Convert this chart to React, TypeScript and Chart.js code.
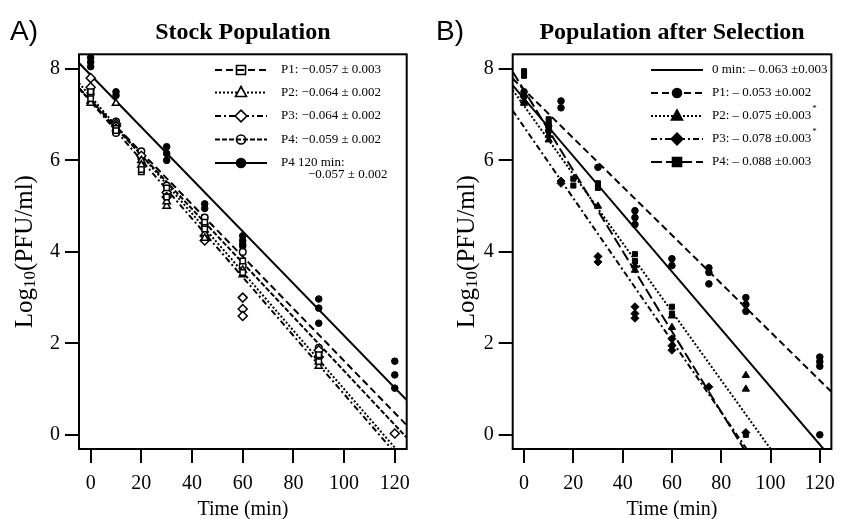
import React, { useEffect, useRef } from "react";
import { Chart, registerables } from "chart.js";
Chart.register(...registerables);

const SERIF = '"Liberation Serif", "Times New Roman", serif';
const SANS = '"Liberation Sans", Arial, sans-serif';

// ---- axes ----
const xTicks = [0, 20, 40, 60, 80, 100, 120];
const yTicks = [0, 2, 4, 6, 8];
const X_MIN = -4.6;
const X_MAX = 124.7;
const Y_MIN = -0.31;
const Y_MAX = 8.32;
const fitX = [-4.6, 124.7];

// ---- Panel A: Stock Population ----
const aP1Time = [0, 0, 10, 10, 20, 20, 30, 30, 45, 45, 60, 60, 60, 90, 90];
const aP1Log = [7.5, 7.35, 6.7, 6.65, 5.75, 5.8, 5.4, 5.2, 4.65, 4.5, 3.8, 3.55, 4.15, 1.75, 1.6];
const aP2Time = [0, 0, 10, 10, 20, 20, 30, 30, 45, 45, 60, 60, 90, 90];
const aP2Log = [7.3, 7.25, 7.25, 6.7, 6.0, 5.9, 5.0, 5.1, 4.4, 4.3, 3.5, 3.6, 1.5, 1.6];
const aP3Time = [0, 0, 10, 10, 20, 30, 30, 45, 45, 60, 60, 60, 90, 90, 120];
const aP3Log = [7.8, 7.6, 6.8, 6.75, 6.1, 5.3, 5.2, 4.35, 4.25, 3.0, 2.75, 2.6, 1.85, 1.7, 0.03];
const aP4Time = [0, 0, 10, 10, 20, 20, 30, 30, 45, 45, 60, 60, 90, 90];
const aP4Log = [7.55, 7.45, 6.85, 6.6, 6.2, 6.05, 5.45, 5.3, 4.6, 4.75, 4.0, 3.7, 1.9, 1.8];
const aP4120Time = [0, 0, 0, 10, 10, 30, 30, 30, 45, 45, 60, 60, 60, 90, 90, 90, 120, 120, 120];
const aP4120Log = [8.25, 8.15, 8.05, 7.5, 7.42, 6.3, 6.15, 6.0, 5.05, 4.95, 4.35, 4.25, 4.15, 2.97, 2.77, 2.44, 1.61, 1.31, 1.02];
// fitted lines: log value at fitX ends
const aFitP4120 = [8.13, 0.76];
const aFitP1 = [7.58, 0.21];
const aFitP2 = [7.69, -0.58];
const aFitP3 = [7.58, -0.69];
const aFitP4 = [7.57, -0.06];

// ---- Panel B: Population after Selection ----
const bP1Time = [0, 0, 10, 10, 15, 15, 30, 45, 45, 45, 60, 60, 75, 75, 75, 90, 90, 90, 120, 120, 120, 120];
const bP1Log = [7.5, 7.4, 6.75, 6.65, 7.3, 7.15, 5.85, 4.9, 4.75, 4.6, 3.85, 3.7, 3.65, 3.55, 3.3, 3.0, 2.85, 2.7, 1.7, 1.6, 1.5, 0.0];
const bP2Time = [0, 0, 10, 10, 30, 45, 45, 60, 60, 90, 90];
const bP2Log = [7.3, 7.25, 6.55, 6.45, 5.0, 3.7, 3.6, 2.6, 2.35, 1.3, 1.0];
const bP3Time = [0, 15, 15, 30, 30, 45, 45, 45, 60, 60, 60, 75, 90];
const bP3Log = [7.4, 5.55, 5.5, 3.9, 3.78, 2.8, 2.65, 2.55, 2.1, 1.95, 1.85, 1.05, 0.05];
const bP4Time = [0, 0, 10, 10, 20, 20, 30, 30, 45, 45, 60, 60, 90];
const bP4Log = [7.95, 7.85, 6.9, 6.8, 5.6, 5.45, 5.5, 5.4, 3.95, 3.8, 2.8, 2.65, 0.0];
const bFit0 = [7.64, -0.51];
const bFitP1 = [7.79, 0.94];
const bFitP2 = [7.54, -2.16];
const bFitP3 = [7.09, -2.99];
const bFitP4 = [7.94, -3.43];

// ---- legend texts ----
const aLegendText = ["P1: \u22120.057 \u00b1 0.003", "P2: \u22120.064 \u00b1 0.002", "P3: \u22120.064 \u00b1 0.002", "P4: \u22120.059 \u00b1 0.002", "P4 120 min:"];
const aLegendText2 = "\u22120.057 \u00b1 0.002";
const bLegendText = ["0 min: \u2013 0.063 \u00b10.003", "P1: \u2013 0.053 \u00b10.002", "P2: \u2013 0.075 \u00b10.003", "P3: \u2013 0.078 \u00b10.003", "P4: \u2013 0.088 \u00b10.003"];
const bLegendSup = ["", "", "*", "*", ""];

type Marker = "rect" | "triangle" | "rectRot" | "circle" | null;
interface SeriesDef { times: number[]; values: number[]; style: Marker; filled: boolean; radius: number; }
interface FitDef { ends: number[]; dash: number[]; }
interface LegendDef { dash: number[]; marker: Marker; filled: boolean; text: string; sup?: string; text2?: string; }
interface PanelDef {
  letter: string; title: string; series: SeriesDef[]; fits: FitDef[]; legend: LegendDef[];
  yAxisWidth: number; padRight: number; yTitleX: number; letterX: number;
  legendLineX: [number, number]; legendTextX: number; legendRowY: number[];
}

const DASH = { dashed: [7, 4], dotted: [2, 2], dashDot: [6, 3, 2, 3], closeDash: [5, 2], longDash: [11, 4], solid: [] as number[] };

const panelA: PanelDef = {
  letter: "A)", title: "Stock Population",
  series: [
    { times: aP4120Time, values: aP4120Log, style: "circle", filled: true, radius: 3.3 },
    { times: aP1Time, values: aP1Log, style: "rect", filled: false, radius: 3.8 },
    { times: aP2Time, values: aP2Log, style: "triangle", filled: false, radius: 4.2 },
    { times: aP3Time, values: aP3Log, style: "rectRot", filled: false, radius: 4.5 },
    { times: aP4Time, values: aP4Log, style: "circle", filled: false, radius: 3.3 },
  ],
  fits: [
    { ends: aFitP4120, dash: DASH.solid },
    { ends: aFitP1, dash: DASH.dashed },
    { ends: aFitP2, dash: DASH.dotted },
    { ends: aFitP3, dash: DASH.dashDot },
    { ends: aFitP4, dash: DASH.closeDash },
  ],
  legend: [
    { dash: DASH.dashed, marker: "rect", filled: false, text: aLegendText[0] },
    { dash: DASH.dotted, marker: "triangle", filled: false, text: aLegendText[1] },
    { dash: DASH.dashDot, marker: "rectRot", filled: false, text: aLegendText[2] },
    { dash: DASH.closeDash, marker: "circle", filled: false, text: aLegendText[3] },
    { dash: DASH.solid, marker: "circle", filled: true, text: aLegendText[4], text2: aLegendText2 },
  ],
  yAxisWidth: 79, padRight: 15.3, yTitleX: 25, letterX: 10,
  legendLineX: [215, 267], legendTextX: 281, legendRowY: [70, 92.5, 116, 139.5, 163],
};

const panelB: PanelDef = {
  letter: "B)", title: "Population after Selection",
  series: [
    { times: bP1Time, values: bP1Log, style: "circle", filled: true, radius: 3.3 },
    { times: bP2Time, values: bP2Log, style: "triangle", filled: true, radius: 4.2 },
    { times: bP3Time, values: bP3Log, style: "rectRot", filled: true, radius: 4 },
    { times: bP4Time, values: bP4Log, style: "rect", filled: true, radius: 3.6 },
  ],
  fits: [
    { ends: bFit0, dash: DASH.solid },
    { ends: bFitP1, dash: DASH.dashed },
    { ends: bFitP2, dash: DASH.dotted },
    { ends: bFitP3, dash: DASH.dashDot },
    { ends: bFitP4, dash: DASH.longDash },
  ],
  legend: [
    { dash: DASH.solid, marker: null, filled: true, text: bLegendText[0], sup: bLegendSup[0] },
    { dash: DASH.dashed, marker: "circle", filled: true, text: bLegendText[1], sup: bLegendSup[1] },
    { dash: DASH.dotted, marker: "triangle", filled: true, text: bLegendText[2], sup: bLegendSup[2] },
    { dash: DASH.dashDot, marker: "rectRot", filled: true, text: bLegendText[3], sup: bLegendSup[3] },
    { dash: DASH.longDash, marker: "rect", filled: true, text: bLegendText[4], sup: bLegendSup[4] },
  ],
  yAxisWidth: 90.7, padRight: 4, yTitleX: 45, letterX: 14,
  legendLineX: [229, 281], legendTextX: 290, legendRowY: [70, 93, 116, 139, 162],
};

function drawMarker(ctx: CanvasRenderingContext2D, style: Marker, x: number, y: number, r: number, filled: boolean) {
  if (!style) return;
  ctx.save();
  ctx.setLineDash([]);
  ctx.beginPath();
  if (style === "circle") ctx.arc(x, y, r, 0, Math.PI * 2);
  else if (style === "rect") ctx.rect(x - r, y - r, 2 * r, 2 * r);
  else if (style === "rectRot") { ctx.moveTo(x, y - r * 1.3); ctx.lineTo(x + r * 1.3, y); ctx.lineTo(x, y + r * 1.3); ctx.lineTo(x - r * 1.3, y); ctx.closePath(); }
  else if (style === "triangle") { ctx.moveTo(x, y - r * 1.2); ctx.lineTo(x + r * 1.1, y + r * 0.8); ctx.lineTo(x - r * 1.1, y + r * 0.8); ctx.closePath(); }
  ctx.lineWidth = 1.6;
  ctx.strokeStyle = "#000";
  if (filled) { ctx.fillStyle = "#000"; ctx.fill(); }
  else if (style === "triangle" || style === "rectRot") { ctx.fillStyle = "#fff"; ctx.fill(); }
  ctx.stroke();
  ctx.restore();
}

function makeDecor(p: PanelDef) {
  return {
    id: "decor",
    afterDraw(chart: any) {
      const ctx: CanvasRenderingContext2D = chart.ctx;
      const a = chart.chartArea;
      const cx = (a.left + a.right) / 2;
      const cy = (a.top + a.bottom) / 2;
      ctx.save();
      ctx.fillStyle = "#000";
      ctx.strokeStyle = "#000";
      // frame
      ctx.setLineDash([]);
      ctx.lineWidth = 2;
      ctx.strokeRect(a.left, a.top, a.right - a.left, a.bottom - a.top);
      // panel letter
      ctx.font = `28px ${SANS}`;
      ctx.textAlign = "left";
      ctx.textBaseline = "alphabetic";
      ctx.fillText(p.letter, p.letterX, 40);
      // title
      ctx.font = `bold 24px ${SERIF}`;
      ctx.textAlign = "center";
      ctx.fillText(p.title, cx, 39);
      // x title
      ctx.font = `20px ${SERIF}`;
      ctx.fillText("Time (min)", cx, 515);
      // y title with subscript
      ctx.save();
      ctx.translate(p.yTitleX, cy);
      ctx.rotate(-Math.PI / 2);
      ctx.textBaseline = "middle";
      ctx.textAlign = "left";
      const big = `25px ${SERIF}`;
      const small = `17px ${SERIF}`;
      ctx.font = big; const w1 = ctx.measureText("Log").width; const w3 = ctx.measureText("(PFU/ml)").width;
      ctx.font = small; const w2 = ctx.measureText("10").width;
      let x0 = -(w1 + w2 + w3) / 2;
      ctx.font = big; ctx.fillText("Log", x0, 0); x0 += w1;
      ctx.font = small; ctx.fillText("10", x0, 6); x0 += w2;
      ctx.font = big; ctx.fillText("(PFU/ml)", x0, 0);
      ctx.restore();
      // legend
      const [lx1, lx2] = p.legendLineX;
      const mx = (lx1 + lx2) / 2;
      ctx.font = `13px ${SERIF}`;
      ctx.textAlign = "left";
      ctx.textBaseline = "middle";
      p.legend.forEach((it, i) => {
        const y = p.legendRowY[i];
        ctx.save();
        ctx.lineWidth = 2;
        ctx.setLineDash(it.dash);
        ctx.beginPath(); ctx.moveTo(lx1, y); ctx.lineTo(lx2, y); ctx.stroke();
        ctx.restore();
        drawMarker(ctx, it.marker, mx, y, it.marker === "triangle" ? 5 : 4.5, it.filled);
        ctx.font = `13px ${SERIF}`;
        ctx.fillText(it.text, p.legendTextX, y);
        if (it.sup) {
          const w = ctx.measureText(it.text).width;
          ctx.font = `9px ${SERIF}`;
          ctx.fillText(it.sup, p.legendTextX + w + 1, y - 7);
          ctx.font = `13px ${SERIF}`;
        }
        if (it.text2) ctx.fillText(it.text2, p.legendTextX + 27, y + 12);
      });
      ctx.restore();
    },
  };
}

function makeChart(canvas: HTMLCanvasElement, p: PanelDef) {
  const datasets: any[] = [];
  p.series.forEach((s) => {
    datasets.push({
      data: s.times.map((t, i) => ({ x: t, y: s.values[i] })),
      showLine: false,
      pointStyle: s.style,
      pointRadius: s.radius,
      pointBackgroundColor: s.filled ? "#000" : "#fff",
      pointBorderColor: "#000",
      pointBorderWidth: s.filled ? 1 : 1.5,
    });
  });
  p.fits.forEach((f) => {
    datasets.push({
      data: fitX.map((x, i) => ({ x, y: f.ends[i] })),
      showLine: true,
      borderColor: "#000",
      borderWidth: 2,
      borderDash: f.dash,
      pointRadius: 0,
      fill: false,
    });
  });
  const tickFont = { family: SERIF, size: 20 };
  const grid = { drawOnChartArea: false, drawTicks: true, tickLength: 14, color: "#000", lineWidth: 2 };
  return new Chart(canvas, {
    type: "scatter",
    data: { datasets },
    options: {
      responsive: false,
      animation: false,
      devicePixelRatio: 1,
      layout: { padding: { left: 0, right: p.padRight, top: 54.3, bottom: 0 } },
      plugins: { legend: { display: false }, tooltip: { enabled: false } },
      scales: {
        x: {
          type: "linear", min: X_MIN, max: X_MAX,
          afterBuildTicks: (sc: any) => { sc.ticks = xTicks.map((v) => ({ value: v })); },
          afterFit: (sc: any) => { sc.height = 70; },
          grid, border: { display: false },
          ticks: { color: "#000", font: tickFont, padding: 9, maxRotation: 0, autoSkip: false },
        },
        y: {
          type: "linear", min: Y_MIN, max: Y_MAX,
          afterBuildTicks: (sc: any) => { sc.ticks = yTicks.map((v) => ({ value: v })); },
          afterFit: (sc: any) => { sc.width = p.yAxisWidth; },
          grid, border: { display: false },
          ticks: { color: "#000", font: tickFont, padding: 5, autoSkip: false },
        },
      },
    } as any,
    plugins: [makeDecor(p)],
  });
}

function Panel({ p, left }: { p: PanelDef; left: number }) {
  const ref = useRef<HTMLCanvasElement>(null);
  useEffect(() => {
    const c = makeChart(ref.current!, p);
    return () => c.destroy();
  }, [p]);
  return <canvas ref={ref} width={422} height={519} style={{ position: "absolute", left, top: 0, width: 422, height: 519 }} />;
}

export default function App() {
  return (
    <div style={{ position: "absolute", left: 0, top: 0, width: 844, height: 519, background: "#fff" }}>
      <Panel p={panelA} left={0} />
      <Panel p={panelB} left={422} />
    </div>
  );
}
